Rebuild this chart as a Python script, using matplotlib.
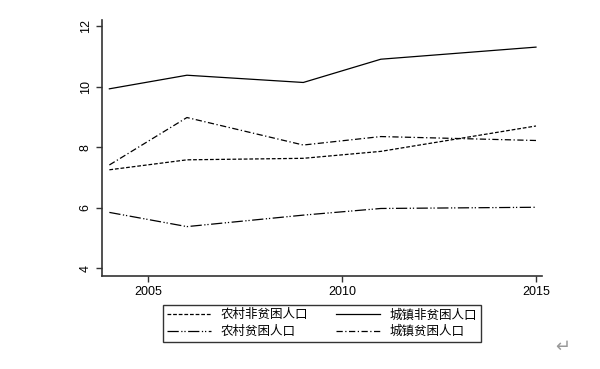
import matplotlib
matplotlib.use("Agg")
import matplotlib.pyplot as plt

plt.rcParams['font.family'] = ['Noto Sans CJK SC', 'DejaVu Sans']

years = [2004, 2006, 2009, 2011, 2015]
rural_nonpoor = [7.25, 7.58, 7.63, 7.86, 8.70]
urban_nonpoor = [9.93, 10.38, 10.14, 10.91, 11.31]
rural_poor = [5.84, 5.37, 5.75, 5.97, 6.01]
urban_poor = [7.41, 8.98, 8.07, 8.35, 8.22]

labels = ["农村非贫困人口", "城镇非贫困人口", "农村贫困人口", "城镇贫困人口"]
xticks = [2005, 2010, 2015]
yticks = [4, 6, 8, 10, 12]

fig = plt.figure(figsize=(6, 3.69), dpi=100)
ax = fig.add_axes([0.17, 0.252, 0.733, 0.694])

lw = 0.9
l1, = ax.plot(years, rural_nonpoor, color="black", lw=lw, dashes=(3, 1.5))
l2, = ax.plot(years, urban_nonpoor, color="black", lw=lw, linestyle="-")
l3, = ax.plot(years, rural_poor, color="black", lw=lw, dashes=(9, 2, 1, 1.5, 1, 2))
l4, = ax.plot(years, urban_poor, color="black", lw=lw, dashes=(5, 2, 1, 2))

ax.set_xlim(2003.81, 2015.15)
ax.set_ylim(3.735, 12.21)
ax.set_xticks(xticks)
ax.set_xticklabels([str(v) for v in xticks], family="Liberation Sans")
ax.set_yticks(yticks)
ax.set_yticklabels([str(v) for v in yticks], rotation=90, va="center", family="Liberation Sans")
ax.tick_params(axis="both", direction="out", length=4, width=1, labelsize=9, color="#333333")
for side in ["top", "right"]:
    ax.spines[side].set_visible(False)
for side in ["left", "bottom"]:
    ax.spines[side].set_linewidth(1.2)
    ax.spines[side].set_color("#333333")

# legend fills column by column, so order handles to get row-major layout
handles = [l1, l3, l2, l4]
leg_labels = [labels[0], labels[2], labels[1], labels[3]]
leg = fig.legend(handles, leg_labels, loc="center", bbox_to_anchor=(0.537, 0.124), ncol=2,
                 fontsize=9, frameon=True, fancybox=False, handlelength=3.5,
                 columnspacing=2.2, handletextpad=0.8, labelspacing=0.3, borderpad=0.3)
leg.get_frame().set_edgecolor("black")
leg.get_frame().set_linewidth(1.0)

fig.text(0.925, 0.045, "↵", fontsize=13, color="#999999", family="DejaVu Sans")

fig.savefig("out.png", dpi=100)
